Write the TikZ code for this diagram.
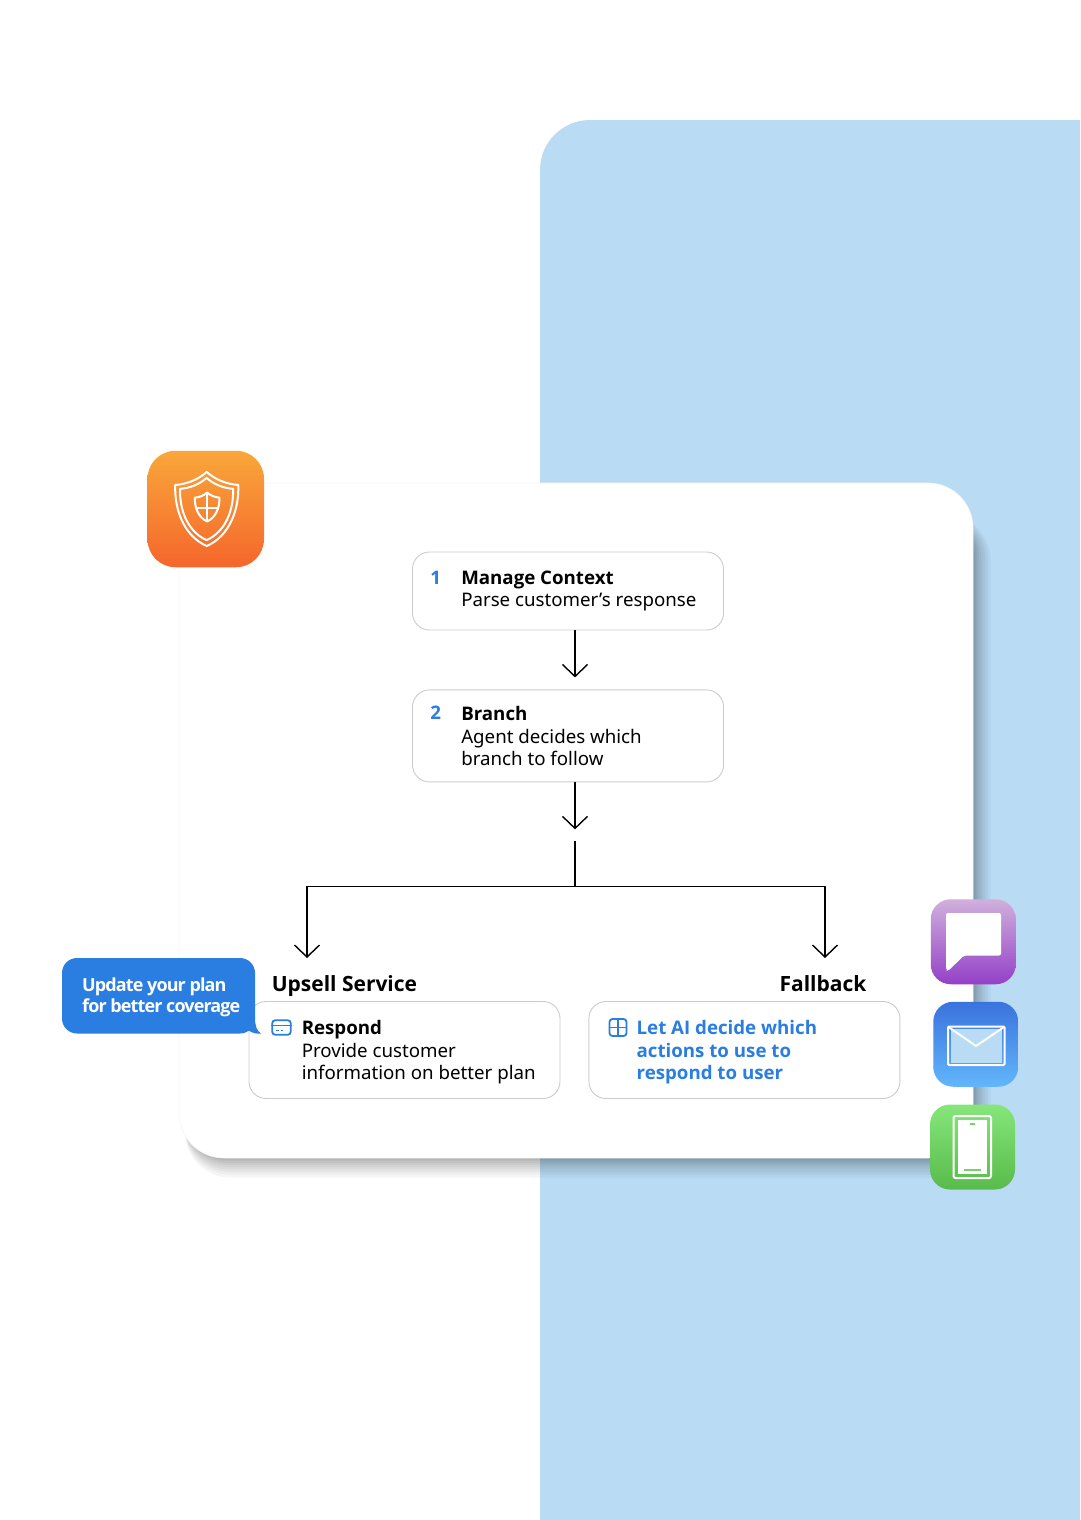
\documentclass[tikz,border=0pt]{standalone}
\usepackage{fontspec}
\setmainfont{Noto Sans}
\newfontfamily\headfont{Open Sans}
\newfontfamily\tightfont{Open Sans}[LetterSpace=-5]
\usetikzlibrary{positioning, calc, arrows.meta}

\definecolor{panelblue}{HTML}{B9DBF4}
\definecolor{accentblue}{HTML}{2A7DE1}
\definecolor{boxgray}{HTML}{C9CCCF}
\definecolor{phonegreen}{HTML}{78D26C}

\newcommand{\bodysize}{\fontsize{18.7}{22.4}\selectfont}
\newcommand{\labelsize}{\fontsize{21}{24}\selectfont}
\newcommand{\headtext}[1]{{\headfont\bfseries #1}}
\newcommand{\shieldoutline}{(1,-37) .. controls (10,-29) and (21,-25) .. (32.5,-24) .. controls (33.5,0) and (24,27) .. (1,37) .. controls (-22,27) and (-31.5,0) .. (-30.5,-24) .. controls (-19,-25) and (-8,-29) .. cycle}

\tikzset{
    stepbox/.style={draw=boxgray, fill=white, line width=.9pt, rounded corners=17pt, minimum width=311pt, inner sep=0pt},
    boxtext/.style={inner sep=0pt, align=left, font=\bodysize},
    flow/.style={-{Straight Barb[length=12pt,width=25pt,line width=1.4pt]}, line width=1.4pt},
    appicon/.style={minimum size=85pt, inner sep=0pt, rounded corners=20pt},
    iconline/.style={white, line width=2pt, line join=round},
    blueline/.style={accentblue, line width=1.8pt}
}

\begin{document}
\begin{tikzpicture}[x=1pt, y=-1pt]
    \useasboundingbox (0,0) rectangle (1080,1520);
    \fill[white] (0,0) rectangle (1080,1520);
    \fill[panelblue] (540,1520) -- (540,170) arc[start angle=180, end angle=90, radius=50pt] -- (1080,120) -- (1080,1520) -- cycle;

    % card with its soft shadow
    \foreach \s in {1,...,14} {
        \fill[black, opacity=.034, rounded corners=45pt] ({181+\s*.3},{508+\s*.5}) rectangle ({971+\s*\s*.1},{1156+\s*\s*.11});
    }
    \node (card) at (576,820.5) [draw=black!4, fill=white, line width=.6pt, rounded corners=45pt, minimum width=794pt, minimum height=675pt, inner sep=0pt] {};

    % steps
    \node (manage) at (568,591) [stepbox, minimum height=78pt] {};
    \node[below=59pt of manage] (branch) [stepbox, minimum height=92pt] {};
    \node (respond) at (404.5,1050) [stepbox, minimum height=97pt] {};
    \node[right=28pt of respond] (fallback) [stepbox, minimum height=97pt] {};

    \node[xshift=18pt, below=19pt of manage.north west, anchor=north west] (manage num) [boxtext, text=accentblue] {\headtext{1}};
    \node[xshift=49pt, below=19pt of manage.north west, anchor=north west] (manage text) [boxtext] {\headtext{Manage Context}\\Parse customer’s response};

    \node[xshift=18pt, below=16.5pt of branch.north west, anchor=north west] (branch num) [boxtext, text=accentblue] {\headtext{2}};
    \node[xshift=49pt, below=17pt of branch.north west, anchor=north west] (branch text) [boxtext] {\headtext{Branch}\\Agent decides which\\branch to follow};

    \node[xshift=53pt, below=19.5pt of respond.north west, anchor=north west] (respond text) [boxtext] {\headtext{Respond}\\Provide customer\\information on better plan};
    \node[xshift=48pt, below=19.5pt of fallback.north west, anchor=north west] (fallback text) [boxtext, text=accentblue] {\headtext{Let AI decide which}\\\headtext{actions to use to}\\\headtext{respond to user}};

    \node[above=4pt of respond.north west, anchor=south west, xshift=23pt] (upsell label) [inner sep=0pt, font=\labelsize] {\headtext{Upsell Service}};
    \node (fallback label) at (823,984) [inner sep=0pt, font=\labelsize] {\headtext{Fallback}};

    % connectors
    \coordinate[below=47pt of branch.south, xshift=7pt] (branch tip);
    \coordinate[below=12pt of branch tip] (split top);
    \coordinate[below=45pt of split top] (split);
    \coordinate (upsell tip) at (307,958);
    \coordinate (fallback tip) at (825,958);
    \draw[flow, shorten >=12pt] ([xshift=7pt]manage.south) -- ([xshift=7pt]branch.north);
    \draw[flow] ([xshift=7pt]branch.south) -- (branch tip);
    \draw[line width=1.4pt] (split top) -- (split);
    \draw[flow] (split) -| (upsell tip);
    \draw[flow] (split) -| (fallback tip);

    % small icons in the boxes
    \node (card icon) at (281.5,1027.5) [draw=accentblue, line width=1.8pt, rounded corners=3pt, minimum width=18.5pt, minimum height=14.5pt, inner sep=0pt] {};
    \draw[blueline] ($(card icon.west)+(0,-2)$) -- ($(card icon.east)+(0,-2)$);
    \draw[blueline, line width=1.4pt] ($(card icon.center)+(-6,3)$) -- +(3,0);
    \draw[blueline, line width=1.4pt] ($(card icon.center)+(-1,3)$) -- +(2,0);

    \node (table icon) at (618,1027.5) [draw=accentblue, line width=1.8pt, rounded corners=3pt, minimum size=17pt, inner sep=0pt] {};
    \draw[blueline] (table icon.north) -- (table icon.south);
    \draw[blueline] (table icon.west) -- (table icon.east);

    % speech bubble
    \fill[accentblue, rounded corners=15pt] (62,958) rectangle (255,1033.5);
    \fill[accentblue] (255,1018) .. controls (255,1026) and (257,1031) .. (261,1033.5) .. controls (256,1034) and (252,1033) .. (248,1030) -- cycle;
    \node[anchor=base west] (bubble line one) at (82,991) [inner sep=0pt, text=white, font=\fontsize{18}{22}\selectfont\tightfont\bfseries] {Update your plan};
    \node[anchor=base west] (bubble line two) at (82,1012.5) [inner sep=0pt, text=white, font=\fontsize{18}{22}\selectfont\tightfont\bfseries] {for better coverage};

    % shield icon
    \node (shield icon) at (205.75,509) [appicon, minimum size=116.5pt, rounded corners=28pt, top color={rgb,255:red,249;green,167;blue,59}, bottom color={rgb,255:red,245;green,102;blue,43}] {};
    \begin{scope}[shift={(shield icon.center)}]
        \draw[iconline] \shieldoutline;
        \draw[iconline, scale=.84] \shieldoutline;
        \draw[iconline, shift={(1,-2)}, scale=.39] \shieldoutline;
        \draw[iconline] (1,-16) -- (1,13);
        \draw[iconline] (-11,-1) -- (13,-1);
    \end{scope}

    % channel icons
    \node (chat icon) at (973.25,941.75) [appicon, top color={rgb,255:red,208;green,176;blue,220}, bottom color={rgb,255:red,148;green,64;blue,200}] {};
    \fill[white, line join=round, rounded corners=2pt] (946,913) -- (1001,913) -- (1001,955.5) -- (964,955.5) -- (948,971) -- (946,970) -- cycle;

    \node (mail icon) at (975.75,1044.25) [appicon, top color={rgb,255:red,58;green,115;blue,222}, bottom color={rgb,255:red,98;green,182;blue,251}] {};
    \draw[iconline, rounded corners=1pt] (948,1026.5) rectangle (1004.5,1065);
    \fill[panelblue] (950.5,1029) rectangle (1002,1062.5);
    \draw[iconline] (948.5,1027) -- (976,1046) -- (1004,1027);

    \node (phone icon) at (972.5,1147) [appicon, top color={rgb,255:red,134;green,230;blue,122}, bottom color={rgb,255:red,88;green,187;blue,75}] {};
    \draw[iconline, rounded corners=2pt] (953.5,1116) rectangle (991,1178);
    \fill[white] (957.5,1120) rectangle (987,1174);
    \draw[phonegreen, line width=2pt] (970,1124) -- (975,1124);
    \draw[phonegreen, line width=2pt] (964,1169.5) -- (981,1169.5);
\end{tikzpicture}
\end{document}
